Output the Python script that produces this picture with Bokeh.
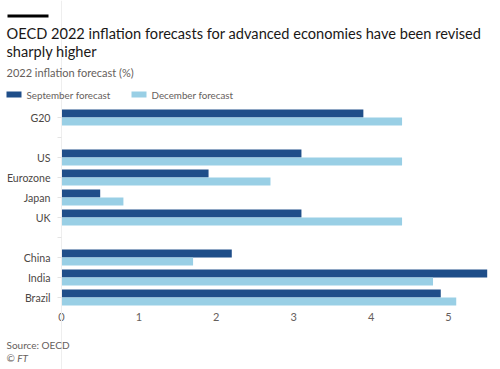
from bokeh.plotting import figure
from bokeh.models import (ColumnDataSource, Range1d, FixedTicker, Label, BoxAnnotation)
from bokeh.embed import file_html
from bokeh.resources import INLINE

# ---- data ----
countries = ["G20", "US", "Eurozone", "Japan", "UK", "China", "India", "Brazil"]
september = [3.9, 3.1, 1.9, 0.5, 3.1, 2.2, 5.5, 4.9]
december = [4.4, 4.4, 2.7, 0.8, 4.4, 1.7, 4.8, 5.1]
row_order = ["G20", "", "US", "Eurozone", "Japan", "UK", "", "China", "India", "Brazil"]
x_ticks = [0, 1, 2, 3, 4, 5]

DARK = "#1f4e89"
LIGHT = "#99cfe5"
GREY = "#66605c"
TEXT = "#1a1817"
FONT = "Lato"
W, H = 500, 369

# pixel layout of the plotting area (window px)
X0_PX, PX_PER_UNIT = 61, 77.4
ROW0_PX, ROW_PX = 117, 20

x_range = Range1d(-X0_PX / PX_PER_UNIT, (W - X0_PX) / PX_PER_UNIT)
y_range = Range1d((H - ROW0_PX) / ROW_PX, -ROW0_PX / ROW_PX)  # inverted: row 0 on top

p = figure(width=W, height=H, output_backend="svg", toolbar_location=None,
           x_range=x_range, y_range=y_range, min_border=0)
p.outline_line_color = None
p.grid.visible = False

row_pos = [row_order.index(c) for c in countries]
src = ColumnDataSource(dict(country=countries, pos=row_pos,
                            sep_y=[r - 0.2 for r in row_pos],
                            dec_y=[r + 0.2 for r in row_pos],
                            sep=september, dec=december))
p.hbar(y="sep_y", right="sep", left=0, height=0.39, source=src,
       color=DARK, line_color=None)
p.hbar(y="dec_y", right="dec", left=0, height=0.39, source=src,
       color=LIGHT, line_color=None)

# x axis at the bottom of the last row
p.xaxis.fixed_location = len(row_order) - 0.5
p.xaxis.ticker = FixedTicker(ticks=x_ticks)
p.xaxis.axis_line_color = None
p.xaxis.major_tick_line_color = None
p.xaxis.major_tick_out = 0
p.xaxis.major_tick_in = 0
p.xaxis.minor_tick_line_color = None
p.xaxis.major_label_standoff = 5
p.xaxis.major_label_text_font = FONT
p.xaxis.major_label_text_font_size = "11px"
p.xaxis.major_label_text_color = GREY

# y axis at x = 0
p.yaxis.fixed_location = 0
p.yaxis.ticker = FixedTicker(ticks=list(range(len(row_order))))
p.yaxis.major_label_overrides = {i: name for i, name in enumerate(row_order)}
p.yaxis.axis_line_color = "#eeeeee"
p.yaxis.major_tick_line_color = "#e4e4e4"
p.yaxis.major_tick_out = 4
p.yaxis.major_tick_in = 0
p.yaxis.minor_tick_line_color = None
p.yaxis.major_label_standoff = 7
p.yaxis.major_label_text_font = FONT
p.yaxis.major_label_text_font_size = "10.6px"
p.yaxis.major_label_text_color = "#4d4845"


def add_text(txt, wx, wy, size, color, style="normal"):
    p.add_layout(Label(x=wx, y=H - wy, x_units="screen", y_units="screen",
                       text=txt, text_font=FONT, text_font_size=size,
                       text_color=color, text_baseline="middle", text_align="left",
                       text_font_style=style))


def add_box(l, r, t, b, color):
    p.add_layout(BoxAnnotation(left=l, right=r, top=H - t, bottom=H - b,
                               left_units="screen", right_units="screen",
                               top_units="screen", bottom_units="screen",
                               fill_color=color, fill_alpha=1, line_color=None))


add_box(7, 48, 14, 17, "black")
add_text("OECD 2022 inflation forecasts for advanced economies have been revised",
         6, 33, "14.6px", TEXT)
add_text("sharply higher", 6, 51, "14.6px", TEXT)
add_text("2022 inflation forecast (%)", 6, 72, "11px", GREY)
add_box(6, 21, 91, 97, DARK)
add_text("September forecast", 26, 94, "9.8px", GREY)
add_box(131, 146, 91, 97, LIGHT)
add_text("December forecast", 151, 94, "9.8px", GREY)
add_text("Source: OECD", 6, 344, "10px", GREY)
add_text("\u00a9 FT", 6, 357, "10px", GREY, style="italic")

open("out.html", "w").write(file_html(p, INLINE))
